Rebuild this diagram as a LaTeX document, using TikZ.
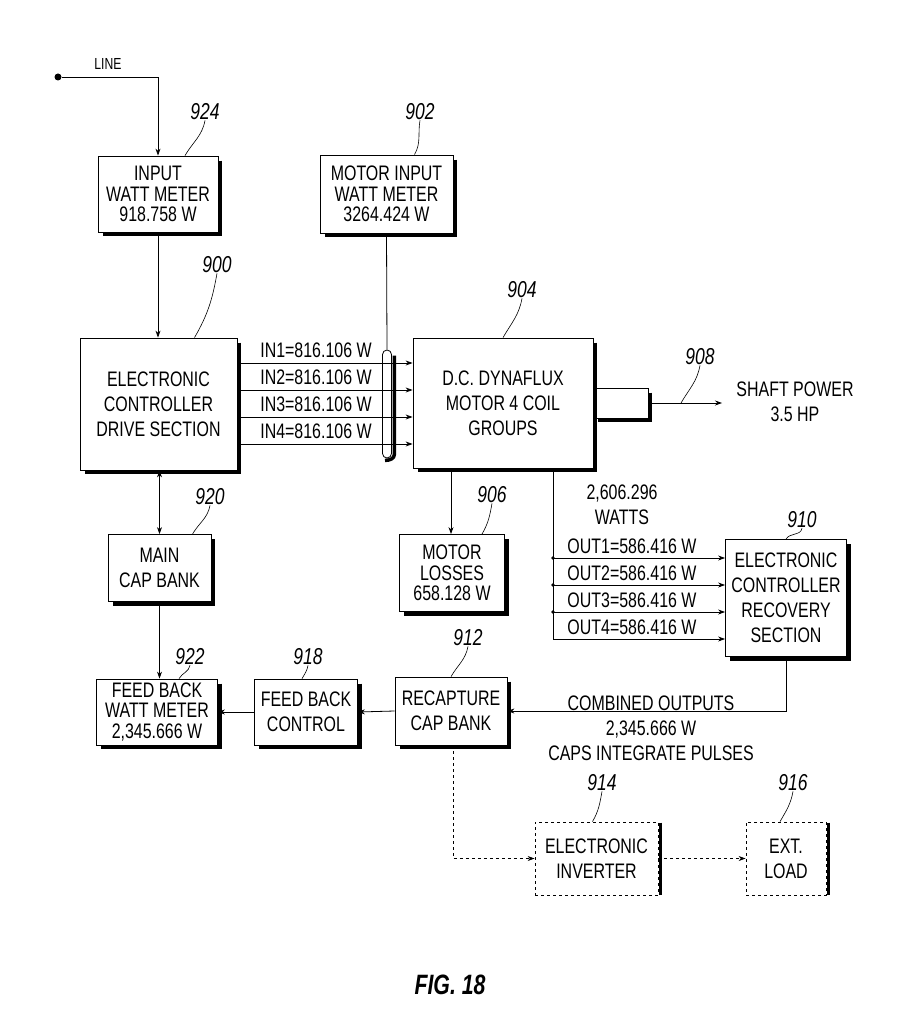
\documentclass[tikz,border=0pt]{standalone}
\usepackage{fontspec}
\setmainfont{Liberation Sans}[FakeStretch=0.76]
\usetikzlibrary{arrows.meta}
\newcommand\boxfont{\fontsize{21}{25}\selectfont}
\newcommand\tightfont{\fontsize{21}{20.5}\selectfont}
\newcommand\reffont{\fontsize{23}{26}\selectfont\itshape}
\newcommand\figfont{\fontsize{28}{30}\selectfont\bfseries\itshape}
\newcommand\shadowit[1]{\draw[shadowline] ([xshift=2pt,yshift=-5pt]#1.north east) -- ([xshift=2pt,yshift=-2pt]#1.south east) -- ([xshift=5pt,yshift=-2pt]#1.south west);}
\newcommand\rshadowit[1]{\draw[shadowline] ([xshift=2pt,yshift=-1pt]#1.north east) -- ([xshift=2pt]#1.south east);}
\begin{document}
\begin{tikzpicture}[x=1pt,y=1pt,
  box/.style={draw, line width=0.8pt, align=center, inner sep=0pt, font=\boxfont},
  tbox/.style={box, font=\tightfont},
  dbox/.style={box, dash pattern=on 3pt off 3pt},
  reflab/.style={font=\reffont, inner sep=0pt},
  lab/.style={font=\boxfont, inner sep=0pt, align=center},
  conn/.style={line width=0.8pt},
  arr/.style={conn, -{Stealth[length=7pt,width=5pt]}},
  darr/.style={conn, {Stealth[length=7pt,width=5pt]}-{Stealth[length=7pt,width=5pt]}},
  dsh/.style={dash pattern=on 3pt off 3pt},
  shadowline/.style={line width=3.5pt, line join=miter},
  leader/.style={line width=0.6pt}]
\useasboundingbox (0,0) rectangle (903,-1024);

% boxes
\node[tbox, minimum width=120pt, minimum height=76pt] (b924) at (158,-194) {INPUT\\WATT METER\\918.758 W};
\node[tbox, minimum width=133pt, minimum height=78pt] (b902) at (386.5,-194) {MOTOR INPUT\\WATT METER\\3264.424 W};
\node[box, minimum width=157pt, minimum height=132pt] (b900) at (158.5,-404) {ELECTRONIC\\CONTROLLER\\DRIVE SECTION};
\node[box, minimum width=180pt, minimum height=130pt] (b904) at (503,-403) {D.C. DYNAFLUX\\MOTOR 4 COIL\\GROUPS};
\node[box, minimum width=55pt, minimum height=30pt] (stub) at (620.5,-403) {};
\node[box, minimum width=103pt, minimum height=67pt] (b920) at (159.5,-568) {MAIN\\CAP BANK};
\node[tbox, minimum width=105pt, minimum height=77pt] (b906) at (452,-573) {MOTOR\\LOSSES\\658.128 W};
\node[box, minimum width=121pt, minimum height=117pt] (b910) at (786,-598) {ELECTRONIC\\CONTROLLER\\RECOVERY\\SECTION};
\node[tbox, minimum width=121pt, minimum height=66pt] (b922) at (157,-712) {FEED BACK\\WATT METER\\2,345.666 W};
\node[box, minimum width=103pt, minimum height=66pt] (b918) at (306,-712) {FEED BACK\\CONTROL};
\node[box, minimum width=112pt, minimum height=68pt] (b912) at (451,-711) {RECAPTURE\\CAP BANK};
\node[dbox, minimum width=123pt, minimum height=73pt] (b914) at (596.5,-858.5) {ELECTRONIC\\INVERTER};
\node[dbox, minimum width=80pt, minimum height=73pt] (b916) at (786,-858.5) {EXT.\\LOAD};

\foreach \n in {b924,b902,b900,b904,stub,b920,b906,b910,b922,b918,b912} {\shadowit{\n}}
\rshadowit{b914}
\rshadowit{b916}

% reference numerals
\node[reflab] (l924) at (205,-112) {924};
\node[reflab] (l902) at (420,-112) {902};
\node[reflab] (l900) at (217,-265) {900};
\node[reflab] (l904) at (522,-290) {904};
\node[reflab] (l908) at (700,-357) {908};
\node[reflab] (l920) at (210,-497) {920};
\node[reflab] (l906) at (492,-495) {906};
\node[reflab] (l910) at (802,-520) {910};
\node[reflab] (l912) at (468,-638) {912};
\node[reflab] (l922) at (190,-657) {922};
\node[reflab] (l918) at (308,-657) {918};
\node[reflab] (l914) at (602,-783) {914};
\node[reflab] (l916) at (793,-783) {916};

% leaders
\coordinate (t908) at (681,-403);
\draw[leader] (l924.south) to[out=-100,in=60] ([xshift=27pt]b924.north);
\draw[leader] (l902.south) to[out=-100,in=60] ([xshift=28pt]b902.north);
\draw[leader] (l900.south) to[out=-100,in=60] ([xshift=36pt]b900.north);
\draw[leader] (l904.south) to[out=-100,in=60] (b904.north);
\draw[leader] (l908.south) to[out=-100,in=60] (t908);
\draw[leader] (l920.south) to[out=-100,in=60] ([xshift=33pt]b920.north);
\draw[leader] (l906.south) to[out=-100,in=60] ([xshift=30pt]b906.north);
\draw[leader] (l910.south) to[out=-100,in=60] (b910.north);
\draw[leader] (l912.south) to[out=-100,in=60] (b912.north);
\draw[leader] (l922.south) to[out=-100,in=60] ([xshift=22pt]b922.north);
\draw[leader] (l918.south) to[out=-100,in=60] ([xshift=-4pt]b918.north);
\draw[leader] (l914.south) to[out=-100,in=60] ([xshift=-4pt]b914.north);
\draw[leader] (l916.south) to[out=-100,in=60] ([xshift=-6pt]b916.north);

% LINE input
\fill (58,-77) circle (3.5pt);
\node[minimum size=7pt, inner sep=0pt] (line) at (58,-77) {};
\node[font=\fontsize{16}{18}\selectfont, inner sep=0pt] (linelab) at (108,-64) {LINE};
\draw[arr] (line.east) -| (b924.north);

\draw[arr] (b924.south) -- (b924.south |- b900.north);

% bus bar
\node[draw, line width=0.8pt, rounded corners=4.5pt, minimum width=9pt, minimum height=108pt, inner sep=0pt] (bus) at (387,-404) {};
\draw[line width=3.5pt] ([xshift=2.5pt,yshift=-6pt]bus.north east) -- ([xshift=2.5pt,yshift=4pt]bus.south east) to[out=-90,in=0] ([xshift=-2pt,yshift=-2pt]bus.south);
\draw[conn] (b902.south) -- (bus.north);

% IN lines
\foreach \yy/\k in {363/1,390/2,417/3,444/4} {
  \coordinate (inL\k) at (237,-\yy);
  \draw[arr] (b900.east |- inL\k) -- (b904.west |- inL\k);
  \node[lab] at (316,-\yy+13) {IN\k=816.106 W};
}

% shaft
\coordinate (shafttip) at (722,-403);
\draw[arr] (stub.east) -- (shafttip);
\node[lab] (shaftlab) at (795,-402) {SHAFT POWER\\3.5 HP};

% motor losses
\coordinate (x451) at (451,0);
\draw[arr] (b904.south -| x451) -- (b906.north -| x451);

% OUT lines
\coordinate (x553) at (553,0);
\coordinate (obot) at (553,-639);
\draw[conn] (b904.south -| x553) -- (obot);
\foreach \yy/\k in {558/1,585/2,612/3,639/4} {
  \coordinate (oo\k) at (553,-\yy);
  \draw[arr] (oo\k) -- (b910.west |- oo\k);
  \node[lab] at (632,-\yy+12) {OUT\k=586.416 W};
}
\foreach \k in {1,2,3} {\fill (oo\k) circle (1.8pt);}
\node[lab] (watts) at (622,-505) {2,606.296\\WATTS};

% lower connections
\draw[darr] (b900.south -| b920.north) -- (b920.north);
\draw[arr] (b920.south) -- (b920.south |- b922.north);
\draw[arr] (b910.south) |- (b912.east);
\node[lab] (comb) at (651,-728) {COMBINED OUTPUTS\\2,345.666 W\\CAPS INTEGRATE PULSES};
\draw[arr] (b912.west) -- (b918.east);
\draw[arr] (b918.west) -- (b922.east);

\coordinate (x453) at (453,0);
\draw[arr, dsh] (b912.south -| x453) |- (b914.west);
\draw[arr, dsh] (b914.east) -- (b916.west);

\node[font=\figfont, inner sep=0pt] (fig) at (450,-985) {FIG. 18};
\end{tikzpicture}
\end{document}
